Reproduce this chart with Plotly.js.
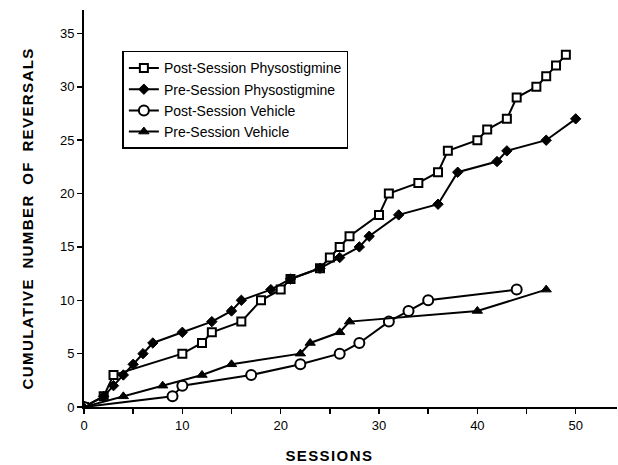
<!DOCTYPE html>
<html><head><meta charset="utf-8">
<script src="https://cdn.plot.ly/plotly-3.0.1.min.js"></script>
<style>html,body{margin:0;padding:0;background:#fff}#chart{width:618px;height:465px}
.ytitlespace{letter-spacing:1.4px;word-spacing:4px}</style>
</head><body><div id="chart"></div>
<script>
const postPhysoX = [0, 2, 3, 10, 12, 13, 16, 18, 20, 21, 24, 25, 26, 27, 30, 31, 34, 36, 37, 40, 41, 43, 44, 46, 47, 48, 49];
const postPhysoY = [0, 1, 3, 5, 6, 7, 8, 10, 11, 12, 13, 14, 15, 16, 18, 20, 21, 22, 24, 25, 26, 27, 29, 30, 31, 32, 33];
const prePhysoX = [0, 2, 3, 4, 5, 6, 7, 10, 13, 15, 16, 19, 21, 24, 26, 28, 29, 32, 36, 38, 42, 43, 47, 50];
const prePhysoY = [0, 1, 2, 3, 4, 5, 6, 7, 8, 9, 10, 11, 12, 13, 14, 15, 16, 18, 19, 22, 23, 24, 25, 27];
const postVehX = [0, 9, 10, 17, 22, 26, 28, 31, 33, 35, 44];
const postVehY = [0, 1, 2, 3, 4, 5, 6, 8, 9, 10, 11];
const preVehX = [0, 4, 8, 12, 15, 22, 23, 26, 27, 40, 47];
const preVehY = [0, 1, 2, 3, 4, 5, 6, 7, 8, 9, 11];
const names = ['Post-Session Physostigmine', 'Pre-Session Physostigmine', 'Post-Session Vehicle', 'Pre-Session Vehicle'];
const xTickVals = [0, 5, 10, 15, 20, 25, 30, 35, 40, 45, 50];
const xTickText = ['0', '', '10', '', '20', '', '30', '', '40', '', '50'];
const yTickVals = [0, 5, 10, 15, 20, 25, 30, 35];
const xTitle = 'SESSIONS';
const yTitle = 'CUMULATIVE NUMBER OF REVERSALS';

const line = {color: '#000', width: 2};
const traces = [
  {x: postPhysoX, y: postPhysoY, name: names[0], mode: 'lines+markers', line: line,
   marker: {symbol: 'square', size: 8, color: '#fff', line: {color: '#000', width: 2}}},
  {x: prePhysoX, y: prePhysoY, name: names[1], mode: 'lines+markers', line: line,
   marker: {symbol: 'diamond', size: 8, color: '#000', line: {color: '#000', width: 1}}},
  {x: postVehX, y: postVehY, name: names[2], mode: 'lines+markers', line: line,
   marker: {symbol: 'circle', size: 10, color: '#fff', line: {color: '#000', width: 2}}},
  {x: preVehX, y: preVehY, name: names[3], mode: 'lines+markers', line: line,
   marker: {symbol: 'triangle-up', size: 9, color: '#000', line: {color: '#000', width: 1}}}
];
const font = {family: 'Liberation Sans, Arial, Helvetica, sans-serif', color: '#000'};
const layout = {
  width: 618, height: 465,
  margin: {l: 84, r: 1, t: 10, b: 58},
  paper_bgcolor: '#fff', plot_bgcolor: '#fff',
  font: Object.assign({size: 13}, font),
  showlegend: true,
  legend: {x: 0.072, y: 0.897, xanchor: 'left', yanchor: 'top', bordercolor: '#000', borderwidth: 1.5,
           bgcolor: '#fff', font: Object.assign({size: 14}, font), tracegroupgap: 0},
  xaxis: {range: [0, 54.2], showgrid: false, zeroline: false, showline: true, linecolor: '#000', linewidth: 2,
          ticks: 'outside', ticklen: 5, tickwidth: 1.5, tickcolor: '#000',
          tickvals: xTickVals, ticktext: xTickText, tickfont: Object.assign({size: 13}, font)},
  yaxis: {range: [0, 37.2], showgrid: false, zeroline: false, showline: true, linecolor: '#000', linewidth: 2,
          ticks: 'outside', ticklen: 5, tickwidth: 1.5, tickcolor: '#000',
          tickvals: yTickVals, tickfont: Object.assign({size: 13}, font)},
  annotations: [
    {text: '<b>' + xTitle + '</b>', xref: 'paper', yref: 'paper', x: 0.46, y: -0.122,
     xanchor: 'center', yanchor: 'middle', showarrow: false, font: Object.assign({size: 15}, font)},
    {text: '<b>' + yTitle + '</b>', xref: 'paper', yref: 'paper', x: -0.107, y: 0.475, textangle: -90,
     xanchor: 'center', yanchor: 'middle', showarrow: false, font: Object.assign({size: 15}, font)}
  ]
};
Plotly.newPlot('chart', traces, layout, {displayModeBar: false, staticPlot: true}).then(function(){
  const ann = document.querySelectorAll('.annotation-text');
  if (ann.length > 1) { ann[1].classList.add('ytitlespace'); ann[0].classList.add('ytitlespace'); }
});
</script></body></html>
